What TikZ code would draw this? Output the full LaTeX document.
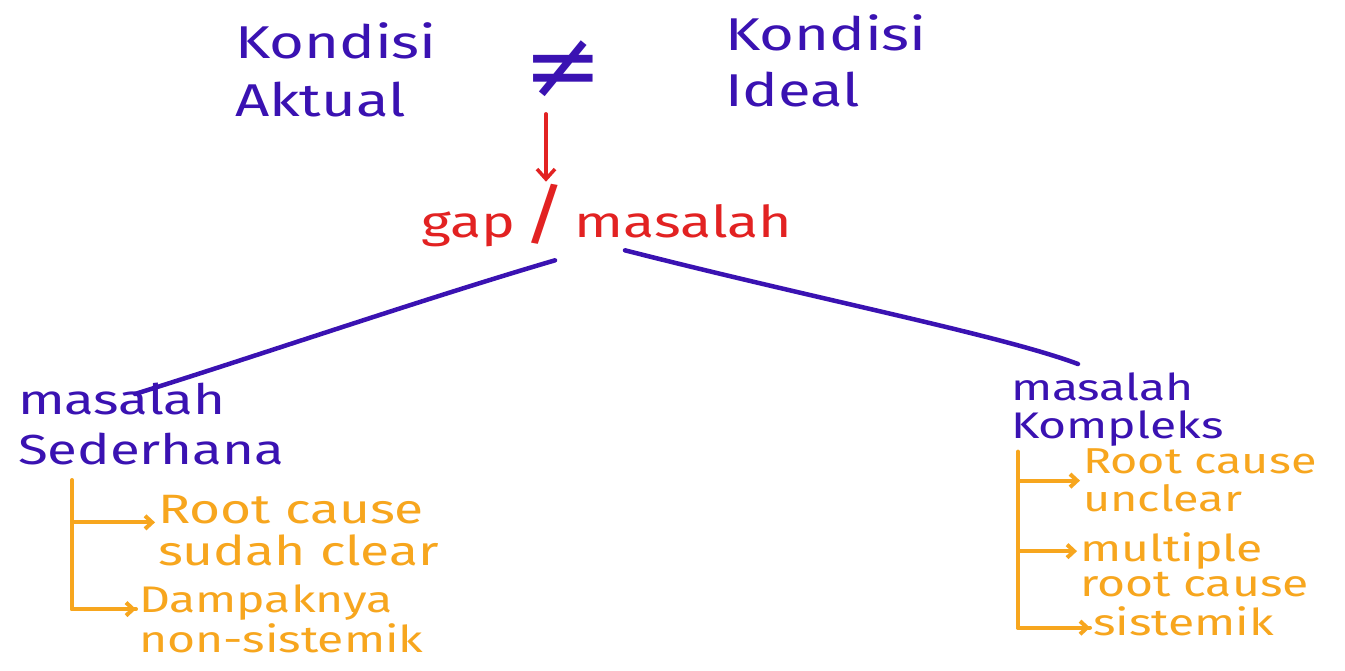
\documentclass[tikz,border=0pt]{standalone}
\usepackage{fontspec}
\setmainfont[FakeStretch=1.3]{Fira Sans}
\newfontfamily\symfont{DejaVu Sans}
\usetikzlibrary{arrows.meta}
\definecolor{purp}{RGB}{58,18,178}
\definecolor{redd}{RGB}{226,34,34}
\definecolor{orng}{RGB}{247,166,30}
\begin{document}
\begin{tikzpicture}[x=1pt,y=-1pt,
  every node/.style={inner sep=0pt, outer sep=3pt},
  ptxt/.style={text=purp, font=\fontsize{40}{47}\selectfont, align=left},
  rtxt/.style={text=redd, font=\fontsize{44}{50}\selectfont},
  otxt/.style={text=orng, font=\fontsize{37}{40}\selectfont, align=left},
  link/.style={draw=purp, line width=4.5pt, line cap=round},
  redarr/.style={draw=redd, line width=3.5pt, line cap=round, -{Straight Barb[length=10pt,width=18pt]}},
  obr/.style={draw=orng, line width=4pt, line cap=round, -{Straight Barb[length=7pt,width=13pt]}},
  oline/.style={draw=orng, line width=4pt, line cap=round, line join=round}]
\useasboundingbox[fill=white] (0,0) rectangle (1345,671);

\node[ptxt, font=\fontsize{46}{58}\selectfont, anchor=north west] (aktual) at (232,20) {Kondisi\\Aktual};
\node[text=purp, font=\symfont\fontsize{95}{95}\selectfont] (neq) at (563,70) {≠};
\node[ptxt, font=\fontsize{46}{56}\selectfont, anchor=north west] (ideal) at (722,12) {Kondisi\\Ideal};
\node[rtxt] (gap) at (607,216) {gap\,{\fontsize{66}{66}\selectfont/}\,masalah};

\draw[redarr] ([xshift=-17pt,yshift=-12pt]neq.south) -- ([xshift=-17pt]neq.south |- gap.north);

\node[ptxt, font=\fontsize{42}{50}\selectfont, anchor=north west] (sed) at (15,380) {masalah\\Sederhana};
\node[ptxt, font=\fontsize{37}{38}\selectfont, anchor=north west] (kom) at (1008,370) {masalah\\Kompleks};

\coordinate (gL) at ([xshift=-52pt,yshift=-10pt]gap.south);
\coordinate (gR) at ([xshift=18pt,yshift=0pt]gap.south);
\coordinate (sL) at ([xshift=120pt,yshift=-14pt]sed.north west);
\coordinate (kR) at ([xshift=70pt,yshift=6pt]kom.north west);
\draw[link] (gL) .. controls (420,300) and (260,355) .. (sL);
\draw[link] (gR) .. controls (820,300) and (1000,335) .. (kR);

% left branch
\node[otxt, font=\fontsize{41}{42}\selectfont, anchor=north west] (rc1) at (155,492) {Root cause\\sudah clear};
\node[otxt, anchor=north west] (dn) at (136,582) {Dampaknya\\non-sistemik};
\coordinate (lt) at ([xshift=57pt,yshift=-12pt]sed.south west);
\coordinate (rc1in) at ([yshift=8pt]rc1.west);
\coordinate (dnin) at ([yshift=10pt]dn.west);
\draw[oline] (lt) |- (dnin);
\draw[obr] (lt |- rc1in) -- (rc1in);
\draw[obr] (lt |- dnin) -- (dnin);

% right branch
\node[otxt, font=\fontsize{36}{38}\selectfont, anchor=north west] (rc2) at (1080,446) {Root cause\\unclear};
\node[otxt, font=\fontsize{37}{35}\selectfont, anchor=north west] (mr) at (1077,530) {multiple\\root cause};
\node[otxt, anchor=north west] (sis) at (1090,604) {sistemik};
\coordinate (rt) at ([xshift=10pt,yshift=-2pt]kom.south west);
\coordinate (rc2in) at (rc2.west);
\coordinate (mrin) at ([yshift=14pt]mr.west);
\coordinate (sisin) at ([yshift=-6pt]sis.west);
\draw[oline] (rt) |- (sisin);
\draw[obr] (rt |- rc2in) -- (rc2in);
\draw[obr] (rt |- mrin) -- (mrin);
\draw[obr] (rt |- sisin) -- (sisin);
\end{tikzpicture}
\end{document}
